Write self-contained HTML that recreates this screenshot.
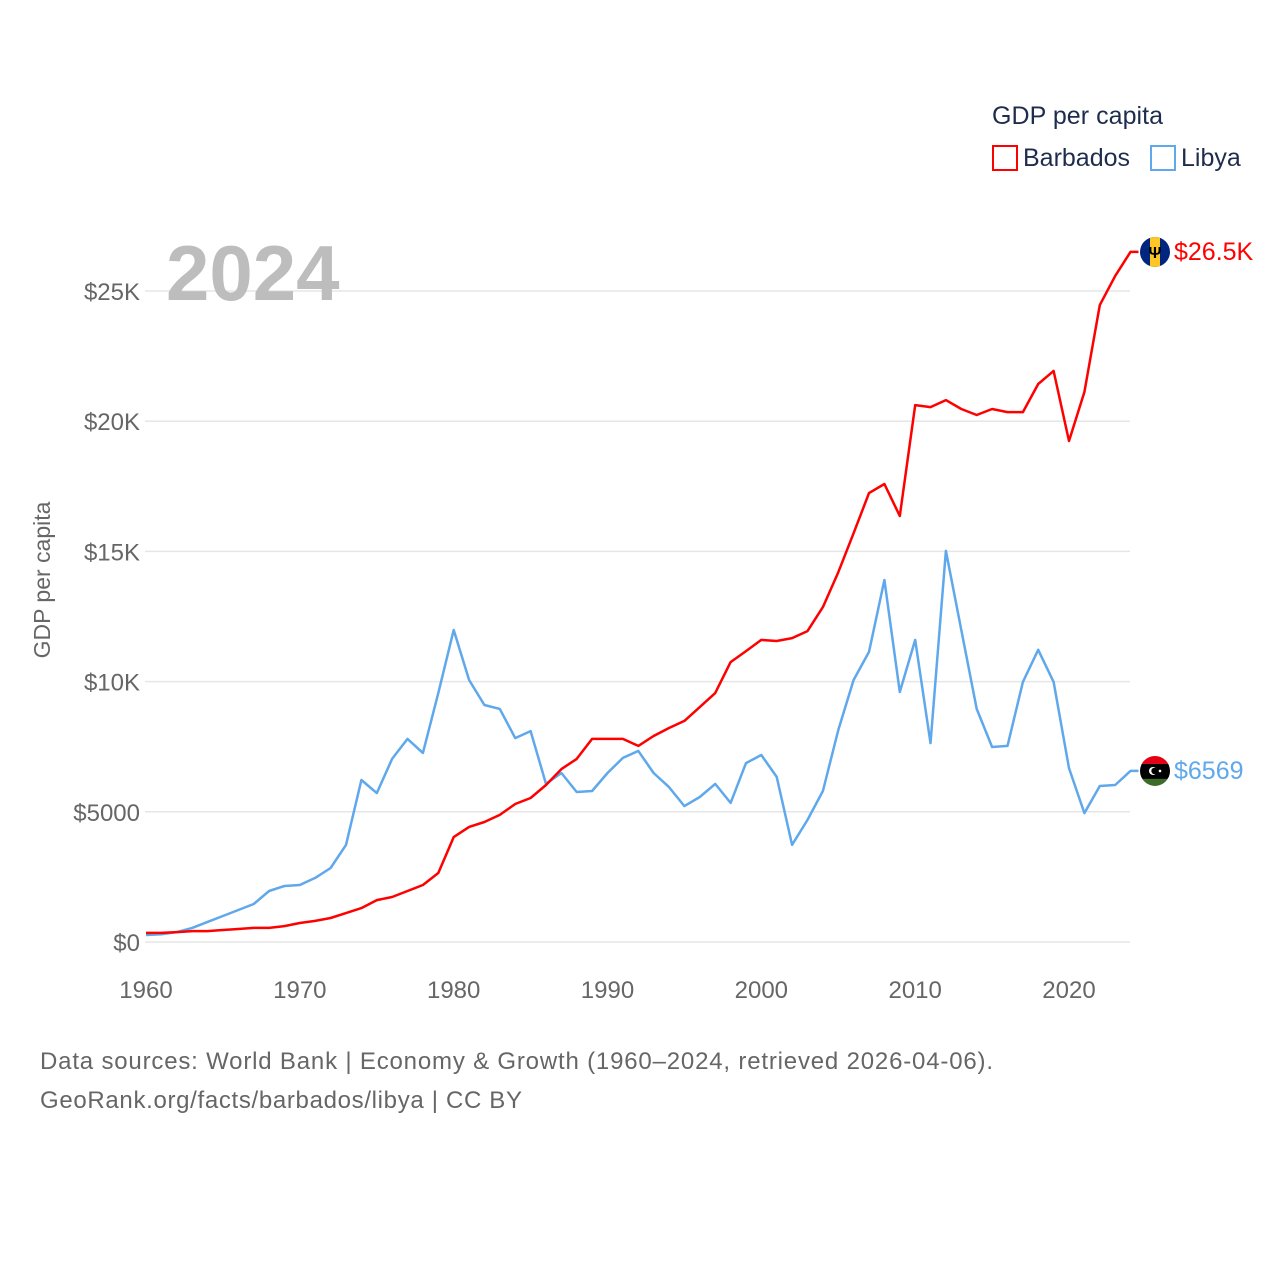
<!DOCTYPE html>
<html><head><meta charset="utf-8"><style>
body{margin:0;background:#fff;font-family:"Liberation Sans",sans-serif}
svg text{font-family:"Liberation Sans",sans-serif}
</style></head><body>
<svg id="chart" width="1280" height="1280" xmlns="http://www.w3.org/2000/svg">
<rect width="1280" height="1280" fill="#fff"/>
<g id="grid"></g><g id="axes"></g><g id="series"></g>
<text x="166" y="300" font-size="78" font-weight="bold" fill="#bdbdbd">2024</text>
<text transform="translate(50,580) rotate(-90)" text-anchor="middle" font-size="23" fill="#666">GDP per capita</text>
<g>
<text x="992" y="124" font-size="25" fill="#1f2d4d" textLength="171">GDP per capita</text>
<rect x="993" y="146" width="24" height="24" fill="none" stroke="red" stroke-width="2"/>
<text x="1023" y="166" font-size="25" fill="#1f2d4d">Barbados</text>
<rect x="1151" y="146" width="24" height="24" fill="none" stroke="#5fa8ec" stroke-width="2"/>
<text x="1181" y="166" font-size="25" fill="#1f2d4d">Libya</text>
</g>
<text x="40" y="1069" font-size="24" fill="#666" textLength="953">Data sources: World Bank | Economy &amp; Growth (1960–2024, retrieved 2026-04-06).</text>
<text x="40" y="1108" font-size="24" fill="#666" textLength="482">GeoRank.org/facts/barbados/libya | CC BY</text>
</svg>
<script>
const years=[];for(let y=1960;y<=2024;y++)years.push(y);
const barbados=[350,350,380,420,420,460,500,540,540,610,730,810,920,1110,1300,1610,1730,1960,2190,2650,4030,4420,4610,4880,5300,5530,6030,6640,7030,7800,7800,7800,7530,7910,8220,8490,9020,9560,10750,11170,11600,11560,11670,11940,12860,14200,15700,17240,17590,16360,20620,20540,20810,20470,20240,20470,20350,20350,21430,21930,19240,21120,24460,25580,26500];
const libya=[270,300,380,540,770,1000,1230,1460,1960,2150,2190,2460,2840,3730,6220,5720,7030,7800,7260,9560,11980,10060,9100,8950,7830,8100,6070,6490,5760,5800,6490,7070,7340,6490,5950,5220,5570,6070,5340,6870,7180,6340,3730,4690,5800,8140,10060,11140,13900,9600,11600,7640,15020,11980,8950,7490,7530,9990,11220,9990,6680,4950,5990,6030,6569];
const yTicks=[0,5000,10000,15000,20000,25000];
const yTickLabels=["$0","$5000","$10K","$15K","$20K","$25K"];
const xTicks=[1960,1970,1980,1990,2000,2010,2020];
const NS="http://www.w3.org/2000/svg";
const X=v=>146+(v-1960)*(1069-146)/60;
const Y=v=>942-v*651/25000;
function mk(t,a,p){const e=document.createElementNS(NS,t);for(const k in a)e.setAttribute(k,a[k]);p.appendChild(e);return e;}
const grid=document.getElementById('grid'),axes=document.getElementById('axes'),ser=document.getElementById('series');
yTicks.forEach((v,i)=>{
 const l=mk('line',{x1:145,x2:1130,y1:Y(v),y2:Y(v),stroke:'#e6e6e6','stroke-width':1.5},grid);
 
 
 const t=mk('text',{x:140,y:Y(v)+9,'text-anchor':'end','font-size':24,fill:'#666'},axes);
 t.textContent=yTickLabels[i];
 
 
});
xTicks.forEach(v=>{
 const t=mk('text',{x:X(v),y:998,'text-anchor':'middle','font-size':24,fill:'#666'},axes);
 t.textContent=v;
 
 
});
function line(vals,color,name){
 let d=vals.map((v,i)=>(i?'L':'M')+X(years[i]).toFixed(1)+','+Y(v).toFixed(1)).join('');
 d+='H'+(X(years[years.length-1])+8).toFixed(1);
 const p=mk('path',{d:d,fill:'none',stroke:color,'stroke-width':2.5,'stroke-linejoin':'round'},ser);
 
 
}
line(libya,'#5fa8ec','libya-line');
line(barbados,'red','barbados-line');
const bY=Y(barbados[barbados.length-1]),lY=Y(libya[libya.length-1]);
const fb=mk('g',{},ser);


const cb=mk('clipPath',{id:'cb'},fb);mk('circle',{cx:1155,cy:bY,r:15},cb);
mk('rect',{x:1140,y:bY-15,width:30,height:30,fill:'#00267f','clip-path':'url(#cb)'},fb);
mk('rect',{x:1150,y:bY-15,width:10,height:30,fill:'#ffc726','clip-path':'url(#cb)'},fb);
const tr=mk('text',{x:1155,y:bY+6,'text-anchor':'middle','font-size':16,'font-weight':'bold',fill:'#000'},fb);tr.textContent='Ψ';
const fl=mk('g',{},ser);


const cl=mk('clipPath',{id:'cl'},fl);mk('circle',{cx:1155,cy:lY,r:15},cl);
mk('rect',{x:1140,y:lY-15,width:30,height:8,fill:'#e70013','clip-path':'url(#cl)'},fl);
mk('rect',{x:1140,y:lY-7,width:30,height:15,fill:'#000','clip-path':'url(#cl)'},fl);
mk('rect',{x:1140,y:lY+8,width:30,height:8,fill:'#3d6b2a','clip-path':'url(#cl)'},fl);
mk('circle',{cx:1153,cy:lY,r:4,fill:'#fff'},fl);mk('circle',{cx:1154.5,cy:lY,r:3.2,fill:'#000'},fl);
mk('circle',{cx:1160,cy:lY,r:1.3,fill:'#fff'},fl);
const bl=mk('text',{x:1174,y:bY+8,'font-size':25,fill:'red'},ser);bl.textContent='$26.5K';


const ll=mk('text',{x:1174,y:lY+8,'font-size':25,fill:'#5fa8ec'},ser);ll.textContent='$6569';


</script>
</body></html>
